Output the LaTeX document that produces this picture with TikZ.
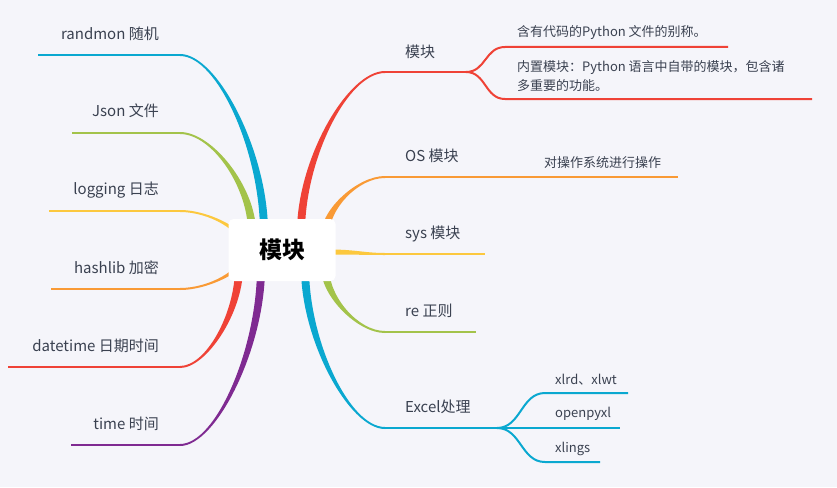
\documentclass[tikz,border=0pt]{standalone}
\usepackage{fontspec}
\setmainfont{Noto Sans CJK SC}
\usetikzlibrary{calc}
\definecolor{paper}{HTML}{F5F5FA}
\definecolor{ink}{HTML}{3A4150}
\definecolor{cyanb}{HTML}{0AA8D0}
\definecolor{greenb}{HTML}{A3C34A}
\definecolor{yellowb}{HTML}{FCC83E}
\definecolor{orangeb}{HTML}{F99A35}
\definecolor{redb}{HTML}{EF4236}
\definecolor{purpleb}{HTML}{7F2A91}
\pgfdeclarelayer{back}
\pgfsetlayers{back,main}
% tapered branch from #2 (thin end) to #3 (inside the hub)
\newcommand\limb[3]{%
  \fill[#1] let \p1=(#2), \p2=(#3),
      \n1={sign(\x2-\x1)}, \n2={sign(\y2-\y1)},
      \n3={\x1+0.45*(\x2-\x1)}, \n4={\y2+0.45*(\y1-\y2)} in
    (\x1,\y1-\n2*1pt) .. controls (\n3*1pt,\y1-\n2*1pt) and (\x2+\n1*4pt,\n4*1pt)
      .. (\x2+\n1*4pt,\y2) -- (\x2-\n1*4pt,\y2)
      .. controls (\x2-\n1*4pt,\n4*1pt) and (\n3*1pt,\y1+\n2*1pt) .. (\x1,\y1+\n2*1pt) -- cycle;}

\begin{document}
\begin{tikzpicture}
  [x=1pt,y=-1pt,
   every node/.style={text=ink,inner sep=0pt},
   lbl/.style={font=\fontsize{15}{18}\selectfont},
   sub/.style={font=\fontsize{13}{19}\selectfont,align=left,anchor=west},
   hub/.style={fill=white,rounded corners=5pt,minimum width=107pt,minimum height=62pt,
     font=\fontsize{23}{26}\selectfont\bfseries,text=black},
   twig/.style={line width=2pt}]
  \useasboundingbox (0,0) rectangle (837,487);

  \node[hub] (c) at (282,250) {模块};

  % left side
  \node[lbl,anchor=east] (rnd) at (159,34) {randmon 随机};
  \node[lbl,anchor=east] (json) at (159,111) {Json 文件};
  \node[lbl,anchor=east] (log) at (159,190) {logging 日志};
  \node[lbl,anchor=east] (hash) at (159,268) {hashlib 加密};
  \node[lbl,anchor=east] (date) at (159,346) {datetime 日期时间};
  \node[lbl,anchor=east] (time) at (159,424) {time 时间};
  \coordinate (rnd-s) at (264,232);  \coordinate (rnd-e) at (180,55);  \coordinate (rnd-t) at (38,55);
  \coordinate (json-s) at (252,232); \coordinate (json-e) at (180,133); \coordinate (json-t) at (72,133);
  \coordinate (log-s) at (246,248);  \coordinate (log-e) at (180,211);  \coordinate (log-t) at (49,211);
  \coordinate (hash-s) at (246,253); \coordinate (hash-e) at (180,289); \coordinate (hash-t) at (51,289);
  \coordinate (date-s) at (239,268); \coordinate (date-e) at (180,367); \coordinate (date-t) at (8,367);
  \coordinate (time-s) at (261,268); \coordinate (time-e) at (180,445); \coordinate (time-t) at (71,445);

  % right side
  \node[lbl,anchor=west] (mod) at (405,52) {模块};
  \node[lbl,anchor=west] (os) at (405,156) {OS 模块};
  \node[lbl,anchor=west] (sys) at (405,234) {sys 模块};
  \node[lbl,anchor=west] (re) at (405,311) {re 正则};
  \node[lbl,anchor=west] (xls) at (405,407) {Excel处理};
  \node[sub] (mod1) at (517,33) {含有代码的Python 文件的别称。};
  \node[sub] (mod2) at (517,76) {内置模块：Python 语言中自带的模块，包含诸\\多重要的功能。};
  \node[sub] (os1) at (544,163) {对操作系统进行操作};
  \node[sub] (xls1) at (555,380) {xlrd、xlwt};
  \node[sub] (xls2) at (555,414) {openpyxl};
  \node[sub] (xls3) at (555,449) {xlings};
  \coordinate (mod-s) at (301,232); \coordinate (mod-e) at (385,72);  \coordinate (mod-t) at (466,72);
  \coordinate (mod1-e) at (505,47); \coordinate (mod1-t) at (728,47);
  \coordinate (mod2-e) at (505,99); \coordinate (mod2-t) at (812,99);
  \coordinate (os-s) at (325,235);  \coordinate (os-e) at (385,177);  \coordinate (os-t) at (678,177);
  \coordinate (sys-s) at (330,252); \coordinate (sys-e) at (385,254); \coordinate (sys-t) at (485,254);
  \coordinate (re-s) at (325,268);  \coordinate (re-e) at (385,332);  \coordinate (re-t) at (476,332);
  \coordinate (xls-s) at (305,268); \coordinate (xls-e) at (385,428); \coordinate (xls-t) at (497,428);
  \coordinate (xls1-e) at (545,393); \coordinate (xls1-t) at (628,393);
  \coordinate (xls2-t) at (620,428);
  \coordinate (xls3-e) at (545,462); \coordinate (xls3-t) at (600,462);

  \begin{pgfonlayer}{back}
    \fill[paper] (0,0) rectangle (837,487);
    \foreach \b/\col in {rnd/cyanb,json/greenb,log/yellowb,hash/orangeb,date/redb,time/purpleb,
                         mod/redb,os/orangeb,re/greenb,xls/cyanb} {
      \limb{\col}{\b-e}{\b-s}
      \draw[twig,\col] (\b-e) -- (\b-t);
    }
    \fill[yellowb] ($(sys-s)+(0,-2.5)$) .. controls +(25,0) and +(-20,0) .. ($(sys-e)+(0,-1)$)
      -- ($(sys-e)+(0,1)$) .. controls +(-20,0) and +(25,0) .. ($(sys-s)+(0,2.5)$) -- cycle;
    \draw[twig,yellowb] (sys-e) -- (sys-t);
    % sub branches
    \draw[twig,redb] (mod-t) .. controls +(20,0) and +(-20,0) .. (mod1-e) -- (mod1-t);
    \draw[twig,redb] (mod-t) .. controls +(20,0) and +(-20,0) .. (mod2-e) -- (mod2-t);
    \draw[twig,cyanb] (xls-t) -- (xls2-t);
    \draw[twig,cyanb] (xls-t) .. controls +(24,0) and +(-24,0) .. (xls1-e) -- (xls1-t);
    \draw[twig,cyanb] (xls-t) .. controls +(24,0) and +(-24,0) .. (xls3-e) -- (xls3-t);
  \end{pgfonlayer}
\end{tikzpicture}
\end{document}
